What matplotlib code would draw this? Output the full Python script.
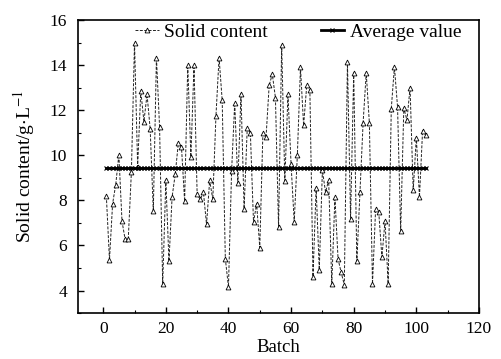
import matplotlib
matplotlib.use("Agg")
import matplotlib.pyplot as plt
from matplotlib.ticker import MultipleLocator

solid_content = [
    8.2, 5.36, 7.85, 8.7, 10.03, 7.08, 6.27, 6.27, 9.26, 15.0,
    9.5, 12.86, 11.5, 12.7, 11.17, 7.52, 14.34, 11.26, 4.27, 8.89,
    5.3, 8.15, 9.16, 10.56, 10.37, 7.96, 14.0, 9.93, 14.0, 8.27,
    8.04, 8.37, 6.93, 8.89, 8.04, 11.73, 14.34, 12.44, 5.42, 4.15,
    9.29, 12.33, 8.77, 12.74, 7.63, 11.21, 10.99, 7.04, 7.85, 5.9,
    11.0, 10.8, 13.1, 13.6, 12.56, 6.81, 14.89, 8.86, 12.7, 9.6,
    7.04, 10.0, 13.9, 11.33, 13.1, 12.9, 4.62, 8.56, 4.92, 9.33,
    8.37, 8.89, 4.3, 8.15, 5.4, 4.8, 4.25, 14.15, 7.19, 13.66,
    5.3, 8.37, 11.44, 13.66, 11.44, 4.3, 7.63, 7.48, 5.48, 7.08,
    4.3, 12.07, 13.93, 12.15, 6.64, 12.1, 11.56, 13.0, 8.44, 10.79,
    8.15, 11.1, 10.89,
]
batch = list(range(1, len(solid_content) + 1))
average_value = 9.45
average_series = [average_value] * len(batch)

plt.rcParams['font.family'] = ['Liberation Serif', 'DejaVu Serif']
plt.rcParams['mathtext.fontset'] = 'stix'

fig = plt.figure(figsize=(5.01, 3.59), dpi=100)
ax = fig.add_axes([0.156, 0.128, 0.800, 0.816])

ax.plot(batch, solid_content, color='#222222', linestyle=(0, (3, 1.5)), linewidth=0.7,
        marker='^', markersize=3.5, markerfacecolor='white', markeredgecolor='black',
        markeredgewidth=0.6, label='Solid content')
ax.plot(batch, average_series, color='black', linestyle='-', linewidth=2.0,
        marker='x', markersize=3, markeredgewidth=0.8, label='Average value')

ax.set_xlim(-8, 120)
ax.set_ylim(3, 16)
ax.xaxis.set_major_locator(MultipleLocator(20))
ax.xaxis.set_minor_locator(MultipleLocator(10))
ax.yaxis.set_major_locator(MultipleLocator(2))
ax.yaxis.set_minor_locator(MultipleLocator(1))
ax.tick_params(which='both', direction='in', labelsize=12.5, top=False, right=False)
ax.tick_params(axis='y', which='major', pad=8)
ax.tick_params(axis='x', which='major', pad=6)
ax.tick_params(which='major', length=4, width=1)
ax.tick_params(which='minor', length=2.5, width=0.8)
for s in ax.spines.values():
    s.set_linewidth(1.2)

ax.set_xlabel('Batch', fontsize=13.5, labelpad=1)
ax.set_ylabel('Solid content/g$\\cdot$L$^{-1}$', fontsize=14, labelpad=9)

ax.legend(loc='upper left', ncol=2, frameon=False, fontsize=14,
          handlelength=1.2, columnspacing=2.7, handletextpad=0.3,
          borderaxespad=0.0, borderpad=0.15, bbox_to_anchor=(0.135, 1.0))

fig.savefig('out.png', dpi=100)
